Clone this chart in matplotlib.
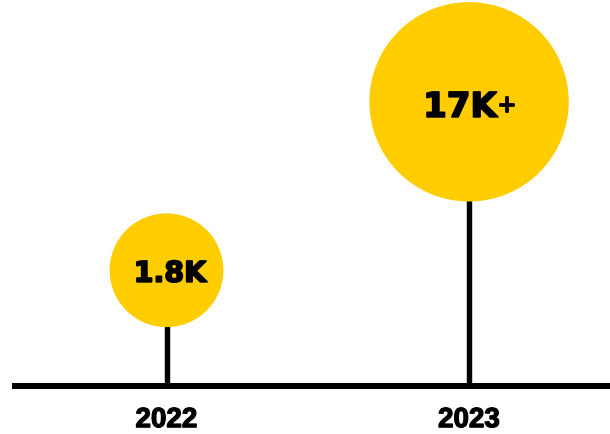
import numpy as np
import matplotlib.pyplot as plt
import matplotlib.patheffects as pe

years = ["2022", "2023"]
values = [1.8, 17.0]          # thousands
labels = ["1.8K", "17K"]
suffixes = ["", "+"]

yellow = "#FFCD00"


def fwd(v):
    v = np.asarray(v, dtype=float)
    return np.sign(v) * np.abs(v) ** 0.4


def inv(u):
    u = np.asarray(u, dtype=float)
    return np.sign(u) * np.abs(u) ** 2.5


fig = plt.figure(figsize=(6.1, 4.35), dpi=100)
ax = fig.add_axes([0, 0, 1, 1])
ax.set_yscale('function', functions=(fwd, inv))

x = np.arange(len(years))

# baseline + stems
ax.hlines(0, -0.511, 1.6, color='black', lw=4.3, zorder=1)
ax.vlines(x, 0, values, color='black', lw=3.9, zorder=1)

# bubbles, area grows with sqrt of value
sizes = [5000 * np.sqrt(v) for v in values]
ax.scatter(x, values, s=sizes, color=yellow, linewidths=0, zorder=2)

heavy = [pe.withStroke(linewidth=1.3, foreground='black')]
heavy_small = [pe.withStroke(linewidth=0.9, foreground='black')]

fs_val = [20.5, 24.5]
dx_val = [2.5, -6.5]
dy_val = [-8.3, -10.8]
for i in range(len(years)):
    ax.annotate(labels[i], (x[i], values[i]), xytext=(dx_val[i], dy_val[i]),
                textcoords='offset points', ha='center', va='baseline',
                fontsize=fs_val[i], fontweight='bold', family='DejaVu Sans',
                color='black', zorder=3, path_effects=heavy)
    if suffixes[i]:
        ax.annotate(suffixes[i], (x[i], values[i]), xytext=(27.4, -2.5),
                    textcoords='offset points', ha='center', va='center',
                    fontsize=17, fontweight='bold', family='DejaVu Sans',
                    color='black', zorder=3, path_effects=heavy)
    ax.text(x[i], 0.002, years[i], transform=ax.get_xaxis_transform(),
            ha='center', va='bottom', fontsize=20, fontweight='bold',
            family='Liberation Sans', color='black', path_effects=heavy_small)

ax.set_xlim(-0.5504, 1.466)
ax.set_ylim(inv(-0.5246), inv(4.2295))
ax.axis('off')

fig.savefig("out.png", dpi=100)
